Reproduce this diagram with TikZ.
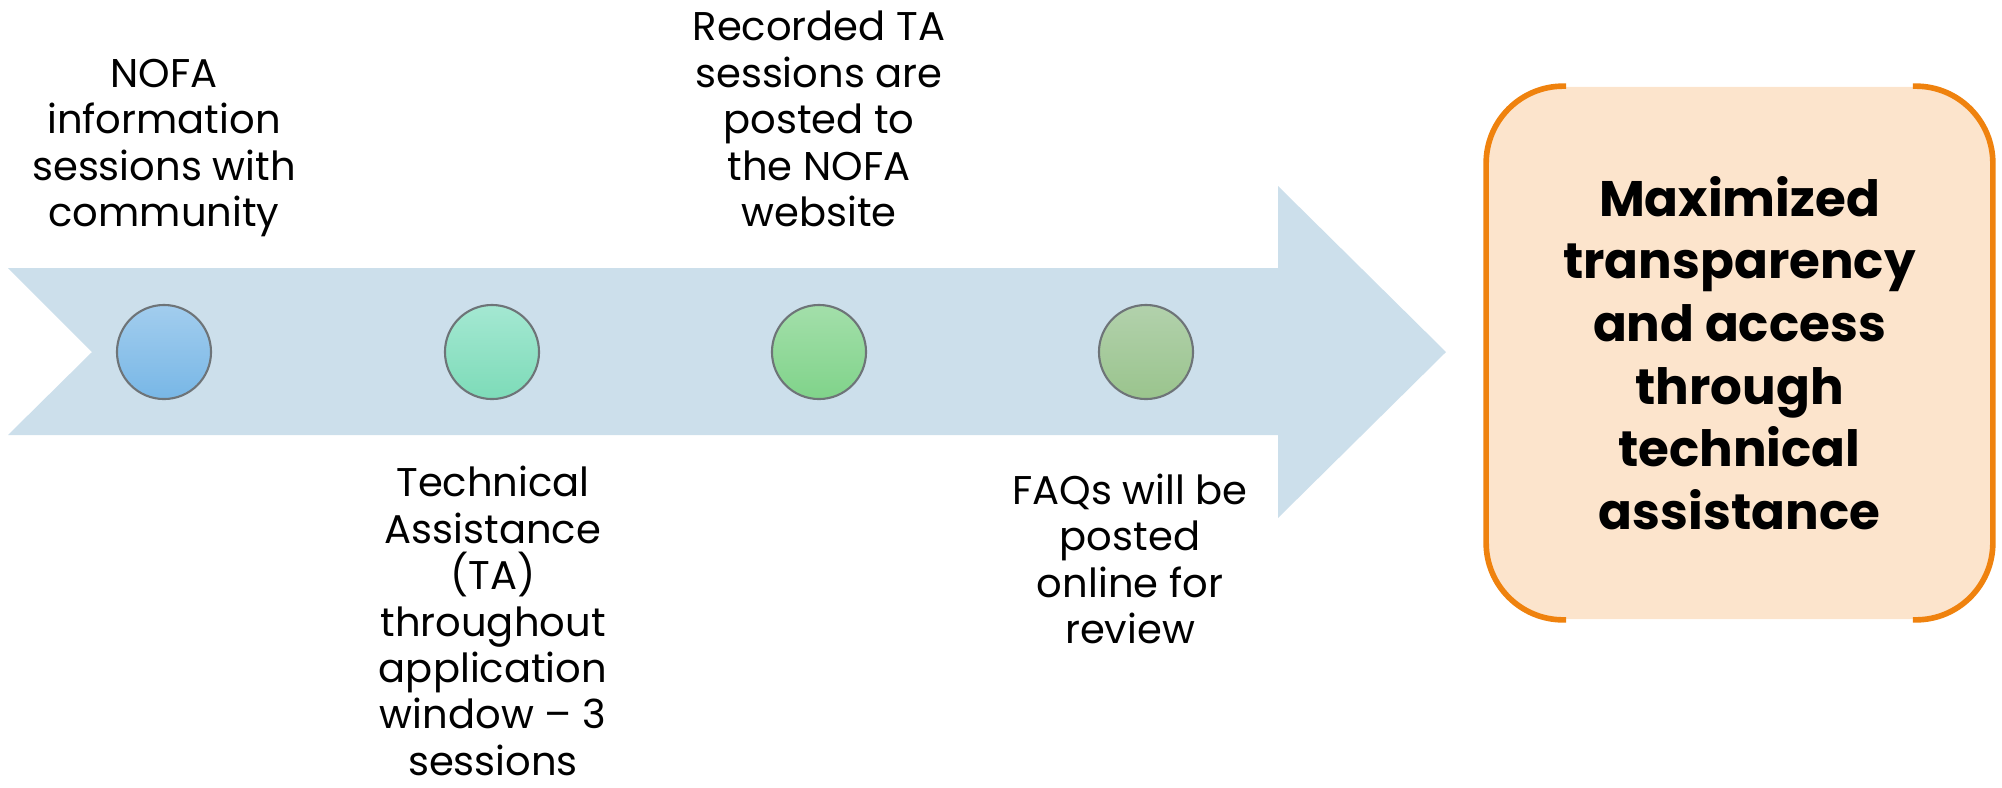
\documentclass[tikz,border=0pt]{standalone}
\usepackage{fontspec}
\setmainfont{Poppins}
\definecolor{bandblue}{HTML}{CCDFEB}
\definecolor{goalfill}{HTML}{FCE4CC}
\definecolor{goalline}{HTML}{EF820E}
\definecolor{dotrim}{HTML}{6E7478}
\definecolor{dotAtop}{HTML}{A2CDEE}
\definecolor{dotAbot}{HTML}{78B7E6}
\definecolor{dotBtop}{HTML}{A4E8D2}
\definecolor{dotBbot}{HTML}{7DDBB8}
\definecolor{dotCtop}{HTML}{A3DFAA}
\definecolor{dotCbot}{HTML}{80D38A}
\definecolor{dotDtop}{HTML}{B2D1AC}
\definecolor{dotDbot}{HTML}{9AC48D}
\begin{document}
\begin{tikzpicture}[x=0.01cm,y=-0.01cm,
    dot/.style={circle,draw=dotrim,line width=0.6pt,minimum size=0.94cm,inner sep=0pt},
    note/.style={align=center,inner sep=0pt,font=\fontsize{11.4}{13.2}\selectfont},
    goal/.style={align=center,inner sep=0pt,font=\fontsize{14.2}{17.8}\selectfont\bfseries}]
    \useasboundingbox (0,0) rectangle (2002,787);

    % the timeline arrow
    \fill[bandblue] (8,268) -- (1278,268) -- (1278,186) -- (1446,352) -- (1278,518)
        -- (1278,435) -- (8,435) -- (92,352) -- cycle;

    \node[dot,top color=dotAtop,bottom color=dotAbot] (D1) at (164,352) {};
    \node[dot,top color=dotBtop,bottom color=dotBbot] (D2) at (492,352) {};
    \node[dot,top color=dotCtop,bottom color=dotCbot] (D3) at (819,352) {};
    \node[dot,top color=dotDtop,bottom color=dotDbot] (D4) at (1146,352) {};

    \node[note] (T1) at (164,148) {NOFA\\information\\sessions with\\community};
    \node[note] (T2) at (493,621) {Technical\\Assistance\\(TA)\\throughout\\application\\window -- 3\\sessions};
    \node[note] (T3) at (819,119) {Recorded TA\\sessions are\\posted to\\the NOFA\\website};
    \node[note] (T4) at (1130,559) {FAQs will be\\posted\\online for\\review};

    % outcome box
    \node[goal,fill=goalfill,rounded corners=0.77cm,minimum width=5.05cm,minimum height=5.32cm]
        (G) at (1739.5,353) {Maximized\\transparency\\and access\\through\\technical\\assistance};
    \draw[goalline,line width=1.6pt,rounded corners=0.77cm]
        ([xshift=0.8cm]G.north west) -- (G.north west) -- (G.south west) -- ([xshift=0.8cm]G.south west);
    \draw[goalline,line width=1.6pt,rounded corners=0.77cm]
        ([xshift=-0.8cm]G.north east) -- (G.north east) -- (G.south east) -- ([xshift=-0.8cm]G.south east);
\end{tikzpicture}
\end{document}
